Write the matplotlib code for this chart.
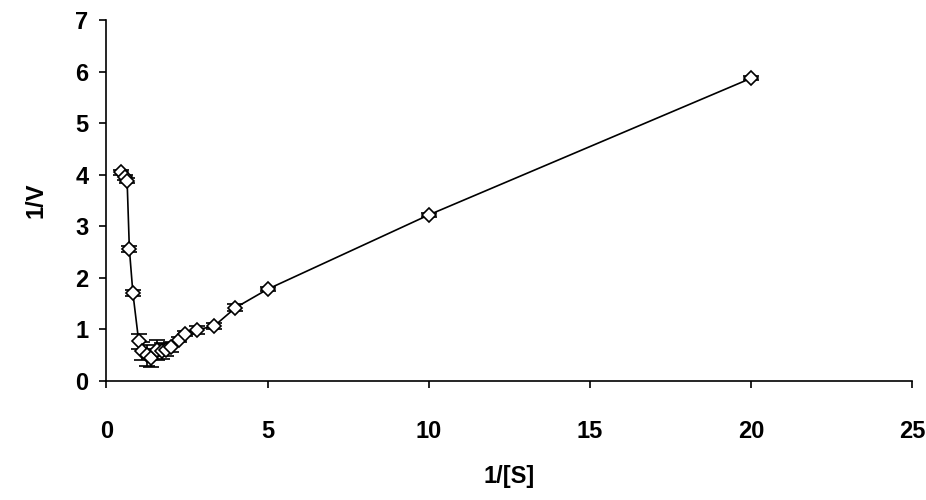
import numpy as np
import matplotlib.pyplot as plt

plt.rcParams['font.family'] = ['Liberation Sans', 'DejaVu Sans']
plt.rcParams['font.weight'] = 'bold'

x = [0.46, 0.56, 0.64, 0.71, 0.82, 1.0, 1.11, 1.26, 1.39, 1.57, 1.73, 1.85, 2.0,
     2.24, 2.45, 2.81, 3.35, 4.0, 5.0, 10.0, 20.0]
y = [4.05, 3.95, 3.88, 2.56, 1.70, 0.77, 0.58, 0.50, 0.45, 0.60, 0.58, 0.60, 0.66,
     0.80, 0.92, 0.99, 1.07, 1.42, 1.78, 3.22, 5.87]
yerr = [0.05, 0.05, 0.05, 0.05, 0.06, 0.15, 0.18, 0.20, 0.18, 0.20, 0.15, 0.12, 0.1,
        0.05, 0.05, 0.08, 0.06, 0.07, 0.04, 0.04, 0.04]

fig = plt.figure(figsize=(9.26, 5.0), dpi=100)
ax = fig.add_axes([0.115, 0.238, 0.87, 0.722])
ax.errorbar(x, y, yerr=yerr, fmt='-', color='k', lw=1.2, capsize=6, elinewidth=1.2,
            marker='D', markersize=7, mfc='white', mec='k', mew=1.2)
ax.set_xlim(0, 25)
ax.set_ylim(0, 7)
ax.set_xticks(range(0, 26, 5))
ax.set_yticks(range(0, 8))
ax.spines['top'].set_visible(False)
ax.spines['right'].set_visible(False)
ax.spines['left'].set_linewidth(1.2)
ax.spines['bottom'].set_linewidth(1.2)
ax.tick_params(labelsize=17, width=1.2, direction='out', length=5)
ax.tick_params(axis='x', pad=23)
ax.tick_params(axis='y', pad=8)
ax.set_xlabel('1/[S]', fontsize=17, fontweight='bold', labelpad=16)
ax.set_ylabel('1/V', fontsize=17, fontweight='bold', labelpad=20)

plt.savefig('out.png')
